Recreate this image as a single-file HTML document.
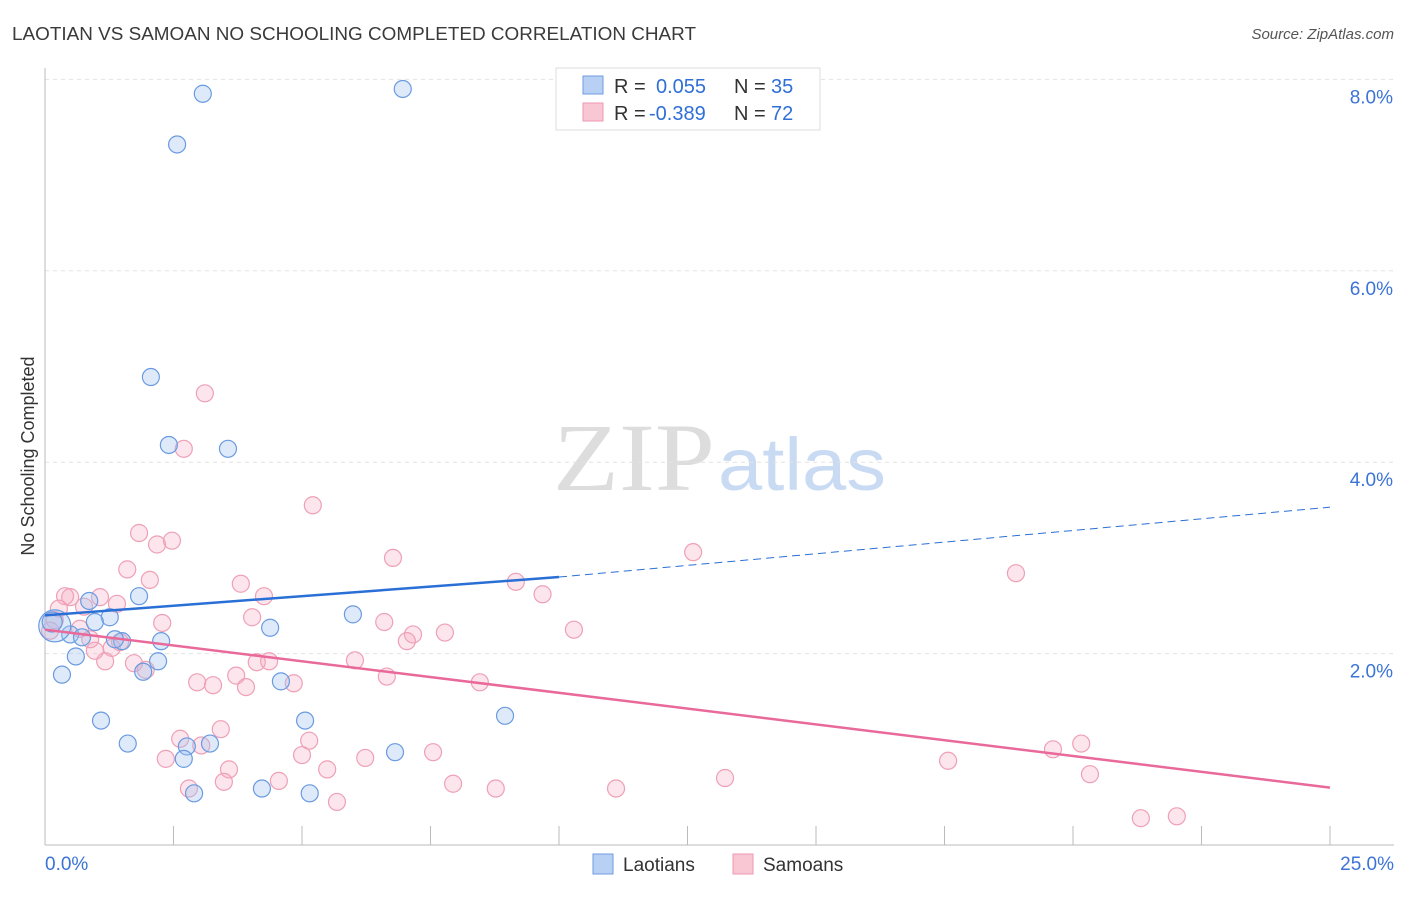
<!DOCTYPE html>
<html><head><meta charset="utf-8"><style>
body{margin:0;background:#fff;font-family:"Liberation Sans",sans-serif}
</style></head><body>
<svg id="c" width="1406" height="892" xmlns="http://www.w3.org/2000/svg">
<text x="12" y="40" font-size="18" fill="#3a3a3a" textLength="684" lengthAdjust="spacingAndGlyphs">LAOTIAN VS SAMOAN NO SCHOOLING COMPLETED CORRELATION CHART</text>
<text x="1394" y="39" font-size="15" font-style="italic" fill="#555" text-anchor="end">Source: ZipAtlas.com</text>
<text x="34" y="456" font-size="18" fill="#333" text-anchor="middle" transform="rotate(-90 34 456)">No Schooling Completed</text>
<text x="553" y="490" font-size="96" font-family="Liberation Serif,serif" fill="#ddd" textLength="162" lengthAdjust="spacingAndGlyphs">ZIP</text>
<text x="718" y="490" font-size="74" fill="#c9daf3" textLength="168" lengthAdjust="spacingAndGlyphs">atlas</text>
<g id="grid"></g><g id="pts"></g><g id="lines"></g>
<g font-size="20">
<rect x="556" y="68" width="264" height="62" fill="#fff" stroke="#ddd"/>
<rect x="583" y="76" width="20" height="18" fill="#b8d0f3" stroke="#6f9be0"/>
<rect x="583" y="103" width="20" height="18" fill="#f9c6d4" stroke="#ee9ab2"/>
<text x="614" y="93" fill="#333">R =</text><text x="656" y="93" fill="#2f6fd6">0.055</text>
<text x="734" y="93" fill="#333">N =</text><text x="771" y="93" fill="#2f6fd6">35</text>
<text x="614" y="120" fill="#333">R =</text><text x="649" y="120" fill="#2f6fd6">-0.389</text>
<text x="734" y="120" fill="#333">N =</text><text x="771" y="120" fill="#2f6fd6">72</text>
</g>
<g>
<rect x="593" y="854" width="20" height="20" fill="#b8d0f3" stroke="#6f9be0"/>
<text x="623" y="871" font-size="19" fill="#333">Laotians</text>
<rect x="733" y="854" width="20" height="20" fill="#f9c6d4" stroke="#ee9ab2"/>
<text x="763" y="871" font-size="19" fill="#333">Samoans</text>
</g>
</svg>
<script>
const yTicks=[2,4,6,8];
const xTickLabels=["0.0%","25.0%"];
const blueX=[3.07,2.57,6.96,2.06,2.41,3.56,1.83,0.86,1.26,0.97,0.49,0.72,1.5,1.36,2.26,0.6,2.2,1.91,0.33,4.38,5.99,4.59,1.09,5.06,1.61,3.21,2.76,2.7,2.9,4.22,5.15,6.81,8.95,0.19,0.14];
const blueY=[7.85,7.32,7.9,4.89,4.18,4.14,2.6,2.55,2.38,2.33,2.2,2.17,2.13,2.15,2.13,1.97,1.92,1.81,1.78,2.27,2.41,1.71,1.3,1.3,1.06,1.06,1.03,0.9,0.54,0.59,0.54,0.97,1.35,2.29,2.33];
const pinkX=[3.11,2.7,5.21,1.83,2.18,2.47,6.77,1.6,2.04,3.81,4.26,1.4,0.49,0.39,1.07,0.76,0.27,2.28,4.03,6.6,7.16,7.04,7.78,9.16,9.68,10.29,12.61,18.89,6.03,6.65,8.46,4.12,4.36,1.17,1.73,1.96,2.96,3.27,3.72,3.91,4.84,2.63,3.42,5.14,3.04,5.0,2.35,6.23,7.55,3.58,5.49,3.48,4.55,2.8,5.68,7.94,8.77,11.11,13.23,17.57,19.61,20.16,20.33,21.32,22.02,0.97,1.3,0.68,0.19,0.88,1.46,0.1];
const pinkY=[4.72,4.14,3.55,3.26,3.14,3.18,3.0,2.88,2.77,2.73,2.6,2.52,2.59,2.6,2.59,2.49,2.47,2.32,2.38,2.33,2.2,2.13,2.22,2.75,2.62,2.25,3.06,2.84,1.93,1.76,1.7,1.91,1.92,1.92,1.9,1.83,1.7,1.67,1.77,1.65,1.69,1.11,1.21,1.09,1.04,0.94,0.9,0.91,0.97,0.79,0.79,0.66,0.67,0.59,0.45,0.64,0.59,0.59,0.7,0.88,1.0,1.06,0.74,0.28,0.3,2.03,2.06,2.26,2.35,2.15,2.12,2.24];
const blueTrend=[[0,2.4],[10,2.8],[25,3.53]];
const pinkTrend=[[0,2.25],[25,0.6]];
const X0=45,X1=1330,Y0=845,PY=95.7;
const sx=v=>X0+(X1-X0)*v/25, sy=v=>Y0-v*PY;
const NS="http://www.w3.org/2000/svg";
function mk(t,a,p){const e=document.createElementNS(NS,t);for(const k in a)e.setAttribute(k,a[k]);p.appendChild(e);return e;}
const g=document.getElementById('grid');
yTicks.forEach(t=>{
 const l=mk('line',{x1:45,x2:1394,y1:sy(t),y2:sy(t),stroke:'#e3e3e3','stroke-dasharray':'4,4'},g);
 
 
 const tx=mk('text',{x:1393,y:sy(t)+24,'font-size':19,fill:'#3b74d6','text-anchor':'end'},g);
 tx.textContent=t.toFixed(1)+'%';
 
 
});
mk('line',{x1:45,x2:45,y1:68,y2:845,stroke:'#bbb'},g);
mk('line',{x1:45,x2:1394,y1:845,y2:845,stroke:'#bbb'},g);
for(let i=0;i<=10;i++){mk('line',{x1:sx(i*2.5),x2:sx(i*2.5),y1:826,y2:845,stroke:'#bbb'},g);}
[[0,'start',45],[1,'end',1394]].forEach(([i,a,x])=>{const t=mk('text',{x:x,y:870,'font-size':19,fill:'#3b74d6','text-anchor':a},g);t.textContent=xTickLabels[i];

});
const p=document.getElementById('pts');
pinkX.forEach((x,i)=>{const c=mk('circle',{cx:sx(x),cy:sy(pinkY[i]),r:8.5,fill:'rgba(246,170,192,0.3)',stroke:'#eea0b6','stroke-width':1.2},p);

});
blueX.forEach((x,i)=>{const c=mk('circle',{cx:sx(x),cy:sy(blueY[i]),r:(i>=33?(i==33?16:10):8.5),fill:'rgba(160,195,240,0.35)',stroke:'#6a9be0','stroke-width':1.2},p);

});
const L=document.getElementById('lines');
const b1=mk('line',{x1:sx(blueTrend[0][0]),y1:sy(blueTrend[0][1]),x2:sx(blueTrend[1][0]),y2:sy(blueTrend[1][1]),stroke:'#2a6fd6','stroke-width':2.5},L);


const b2=mk('line',{x1:sx(blueTrend[1][0]),y1:sy(blueTrend[1][1]),x2:sx(blueTrend[2][0]),y2:sy(blueTrend[2][1]),stroke:'#2a6fd6','stroke-width':1,'stroke-dasharray':'8,5'},L);


const p1=mk('line',{x1:sx(pinkTrend[0][0]),y1:sy(pinkTrend[0][1]),x2:sx(pinkTrend[1][0]),y2:sy(pinkTrend[1][1]),stroke:'#e8699a','stroke-width':2.5},L);


</script>
</body></html>
